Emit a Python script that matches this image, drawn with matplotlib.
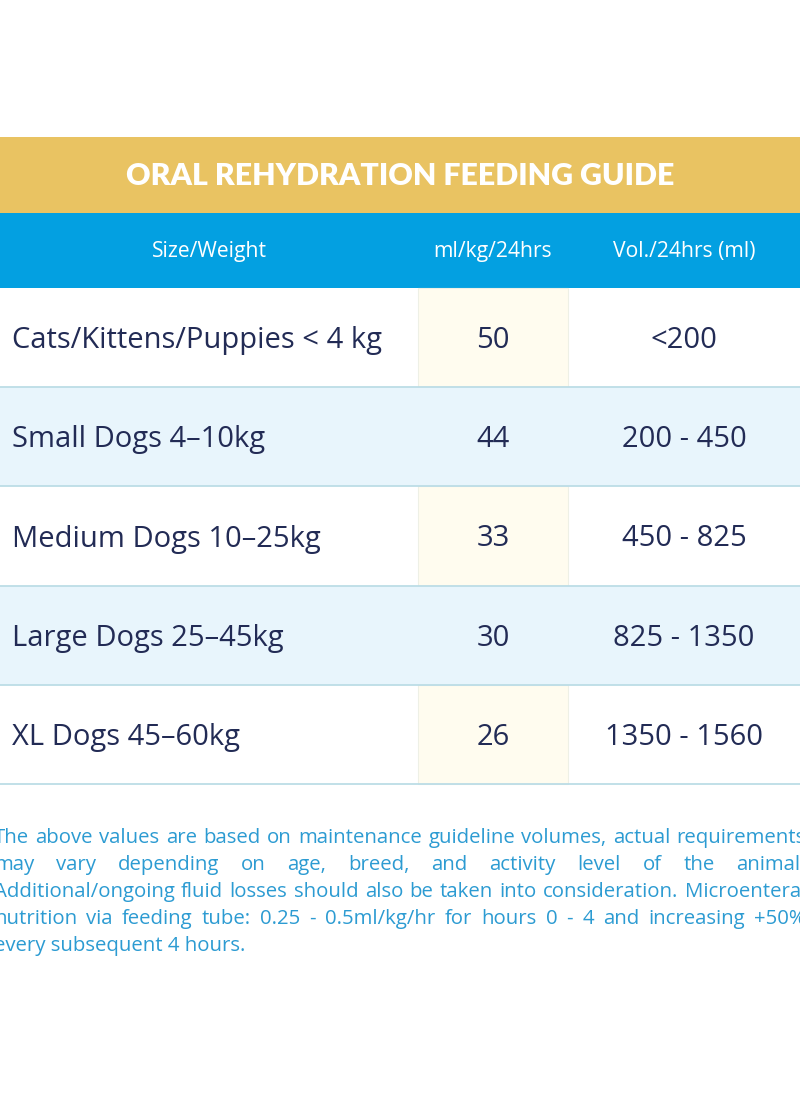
import matplotlib.pyplot as plt
from matplotlib.patches import Rectangle

title = "ORAL REHYDRATION FEEDING GUIDE"
headers = ["Size/Weight", "ml/kg/24hrs", "Vol./24hrs (ml)"]
sizes = ["Cats/Kittens/Puppies < 4 kg", "Small Dogs 4\u201310kg", "Medium Dogs 10\u201325kg",
         "Large Dogs 25\u201345kg", "XL Dogs 45\u201360kg"]
ml_per_kg = [50, 44, 33, 30, 26]
volumes = ["<200", "200 - 450", "450 - 825", "825 - 1350", "1350 - 1560"]
note_lines = [
    "The above values are based on maintenance guideline volumes, actual requirements",
    "may vary depending on age, breed, and activity level of the animal.",
    "Additional/ongoing fluid losses should also be taken into consideration. Microenteral",
    "nutrition via feeding tube: 0.25 - 0.5ml/kg/hr for hours 0 - 4 and increasing +50%",
    "every subsequent 4 hours.",
]

# layout (pixels)
W, H = 800, 1096
gold_top, gold_h = 137, 76
head_h = 75
row_top, row_h = 288, 99.2
col_x = [0, 418, 568, 800]

GOLD = "#E9C362"
BLUE = "#03A0E1"
ALT = "#E8F5FC"
CREAM = "#FFFCEF"
LINE = "#BCDDE6"
NAVY = "#222B55"
NOTE = "#2C9BD2"
FONT = "Open Sans"

fig = plt.figure(figsize=(8, 10.96), dpi=100)
ax = fig.add_axes([0, 0, 1, 1])
ax.set_xlim(0, W)
ax.set_ylim(H, 0)
ax.axis("off")

ax.add_patch(Rectangle((0, gold_top), W, gold_h, color=GOLD, lw=0))
ax.text(W / 2, gold_top + gold_h / 2 + 1, title, color="white", fontsize=21.8,
        fontweight="heavy", family="Lato", ha="center", va="center")

ht = gold_top + gold_h
ax.add_patch(Rectangle((0, ht), W, head_h, color=BLUE, lw=0))
for i, h in enumerate(headers):
    cx = (col_x[i] + col_x[i + 1]) / 2
    ax.text(cx, ht + head_h / 2 + 1, h, color="white", fontsize=15.2, family=FONT,
            fontweight="medium", ha="center", va="center")

for r, (s, m, v) in enumerate(zip(sizes, ml_per_kg, volumes)):
    y0 = row_top + r * row_h
    if r % 2 == 1:
        ax.add_patch(Rectangle((0, y0), W, row_h, color=ALT, lw=0))
    else:
        ax.add_patch(Rectangle((col_x[1], y0), col_x[2] - col_x[1], row_h,
                               facecolor=CREAM, edgecolor="#EEF0E6", lw=0.8))
    ax.plot([0, W], [y0 + row_h, y0 + row_h], color=LINE, lw=1.3)
    yc = y0 + row_h / 2 + 3
    ax.text(12, yc, s, color=NAVY, fontsize=21, family=FONT, ha="left", va="center")
    ax.text((col_x[1] + col_x[2]) / 2, yc, str(m), color=NAVY, fontsize=21,
            family=FONT, ha="center", va="center")
    ax.text((col_x[2] + col_x[3]) / 2, yc, v, color=NAVY, fontsize=21,
            family=FONT, ha="center", va="center")

# justified footnote, font sized so the densest line fills the width
fig.canvas.draw()
renderer = fig.canvas.get_renderer()
x_left, x_right = -6, 806
note_y0, note_dy = 838, 27
probe = ax.text(0, 0, note_lines[2], fontsize=14, family=FONT)
nfs = 14 * (x_right - x_left - 4) / probe.get_window_extent(renderer).width
probe.remove()
for li, line in enumerate(note_lines):
    y = note_y0 + li * note_dy
    words = line.split(" ")
    if li == len(note_lines) - 1:
        ax.text(x_left, y, line, color=NOTE, fontsize=nfs, family=FONT,
                ha="left", va="center")
        continue
    txts = [ax.text(0, y, w, color=NOTE, fontsize=nfs, family=FONT,
                    ha="left", va="center") for w in words]
    widths = [t.get_window_extent(renderer).width for t in txts]
    gap = (x_right - x_left - sum(widths)) / (len(words) - 1)
    x = x_left
    for t, wd in zip(txts, widths):
        t.set_x(x)
        x += wd + gap

fig.savefig("out.png", dpi=100, facecolor="white")
